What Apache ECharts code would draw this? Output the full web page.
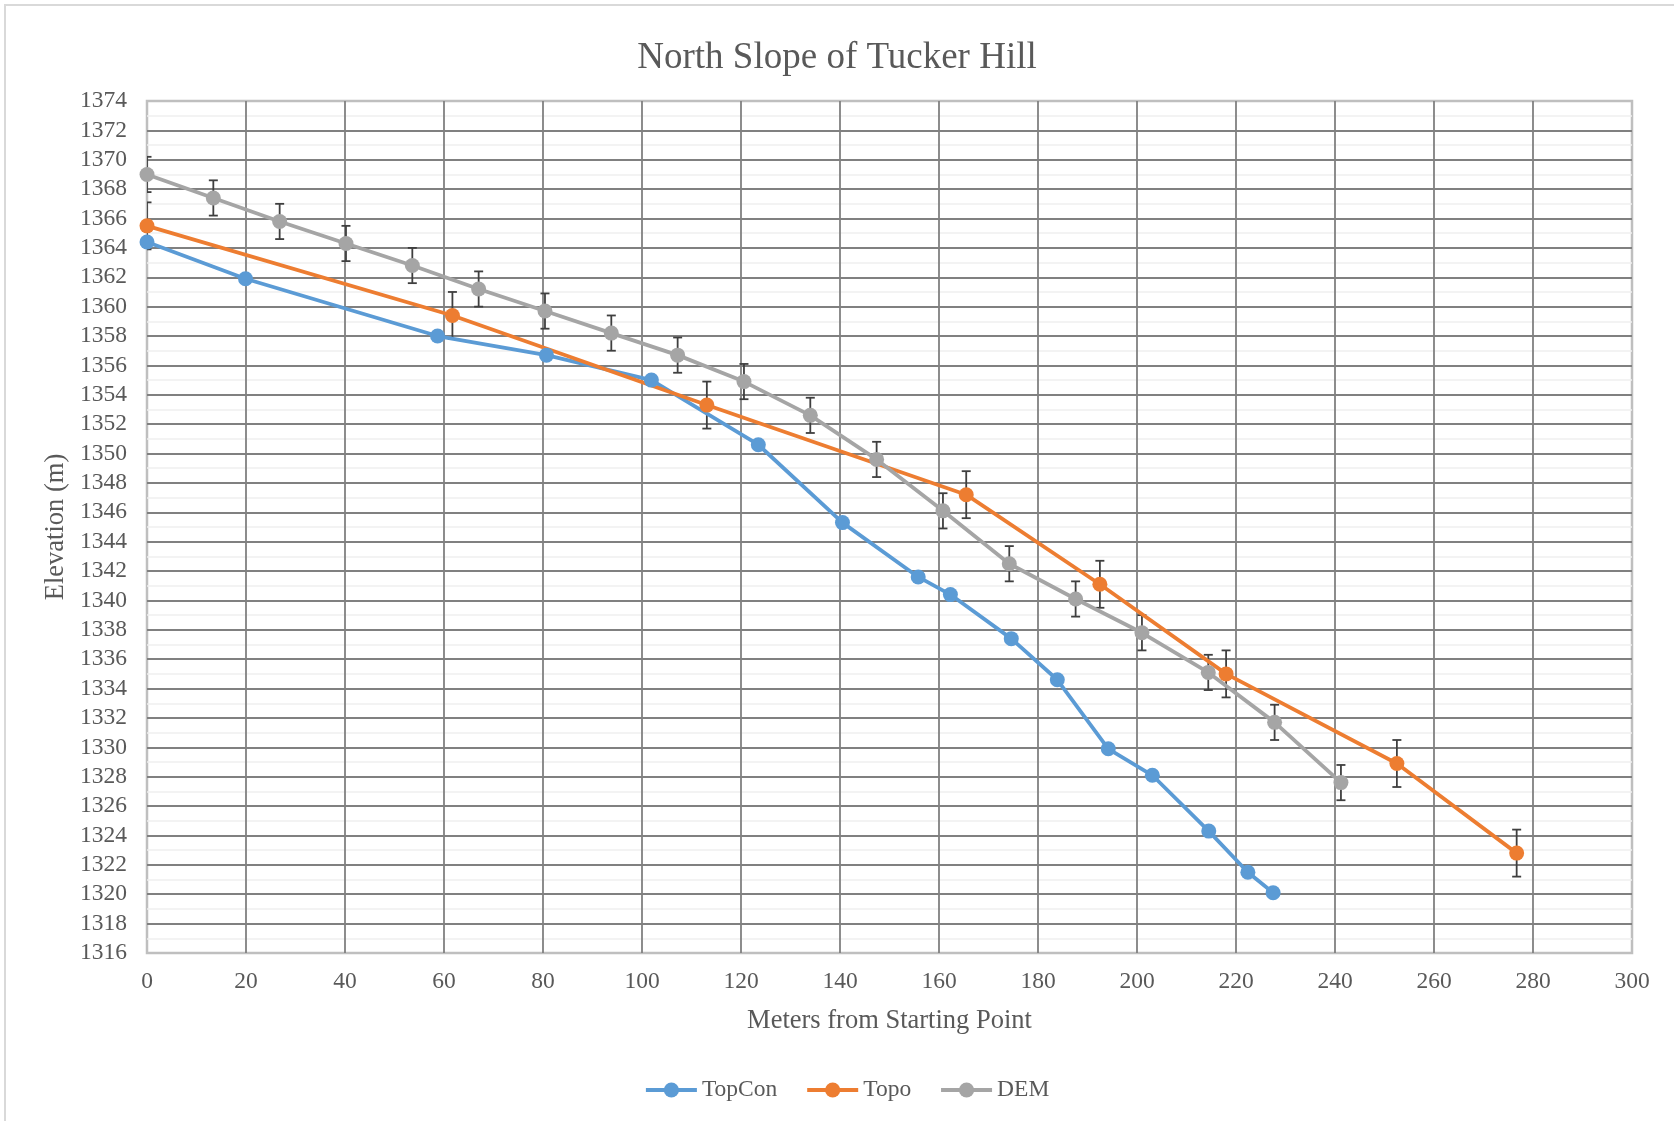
<!DOCTYPE html>
<html>
<head>
<meta charset="utf-8">
<title>North Slope of Tucker Hill</title>
<script src="https://cdn.jsdelivr.net/npm/echarts@6/dist/echarts.min.js"></script>
<style>
  html, body { margin: 0; padding: 0; background: #ffffff; }
  #chart { width: 1674px; height: 1121px; }
</style>
</head>
<body>
<div id="chart"></div>
<script>
// Distance along the profile (m) and elevation (m) for each survey method
const topconX = [0, 19.9, 58.7, 80.7, 101.9, 123.5, 140.5, 155.8, 162.3, 174.6, 183.9, 194.2, 203.1, 214.5, 222.4, 227.5];
const topconY = [1364.4, 1361.9, 1358.0, 1356.7, 1355.0, 1350.6, 1345.3, 1341.6, 1340.4, 1337.4, 1334.6, 1329.9, 1328.1, 1324.3, 1321.5, 1320.1];

const topoX = [0, 61.7, 113.1, 165.5, 192.5, 218.0, 252.5, 276.7];
const topoY = [1365.5, 1359.4, 1353.3, 1347.2, 1341.1, 1335.0, 1328.9, 1322.8];

const demX = [0, 13.4, 26.8, 40.2, 53.6, 67.0, 80.4, 93.8, 107.2, 120.6, 134.0, 147.4, 160.8, 174.2, 187.6, 201.0, 214.4, 227.8, 241.2];
const demY = [1369.0, 1367.4, 1365.8, 1364.3, 1362.8, 1361.2, 1359.7, 1358.2, 1356.7, 1354.9, 1352.6, 1349.6, 1346.1, 1342.5, 1340.1, 1337.8, 1335.1, 1331.7, 1327.6];

// Vertical uncertainty (± m) shown as error bars
const topoErr = 1.6;
const demErr = 1.2;

const xTicks = { min: 0, max: 300, interval: 20 };
const yTicks = { min: 1316, max: 1374, interval: 2 };

const seriesNames = ['TopCon', 'Topo', 'DEM'];
const seriesColors = ['#5B9BD5', '#ED7D31', '#A5A5A5'];

const FONT = "'Liberation Serif', 'Times New Roman', serif";
const TEXT = '#595959';

function pairs(xs, ys) {
  return xs.map((x, i) => [x, ys[i]]);
}
function errRows(xs, ys, e) {
  return xs.map((x, i) => [x, ys[i] - e, ys[i] + e]);
}

// Error bar: vertical whisker with a short cap at each end
function renderErrorBar(params, api) {
  const x = api.value(0);
  const lo = api.coord([x, api.value(1)]);
  const hi = api.coord([x, api.value(2)]);
  const w = 4.5;
  const style = { stroke: '#3f3f3f', lineWidth: 1.8 };
  return {
    type: 'group',
    children: [
      { type: 'line', shape: { x1: lo[0], y1: lo[1], x2: hi[0], y2: hi[1] }, style },
      { type: 'line', shape: { x1: hi[0] - w, y1: hi[1], x2: hi[0] + w, y2: hi[1] }, style },
      { type: 'line', shape: { x1: lo[0] - w, y1: lo[1], x2: lo[0] + w, y2: lo[1] }, style }
    ]
  };
}

function lineSeries(name, color, data) {
  return {
    name,
    type: 'line',
    data,
    z: 3,
    symbol: 'circle',
    symbolSize: 15,
    showSymbol: true,
    animation: false,
    lineStyle: { color, width: 3.8 },
    itemStyle: { color }
  };
}

function errorSeries(name, data) {
  return {
    name,
    type: 'custom',
    renderItem: renderErrorBar,
    data,
    encode: { x: 0, y: [1, 2] },
    clip: true,
    z: 2,
    animation: false,
    silent: true
  };
}

const chart = echarts.init(document.getElementById('chart'), null, { renderer: 'canvas' });

chart.setOption({
  backgroundColor: '#ffffff',
  animation: false,
  title: {
    text: 'North Slope of Tucker Hill',
    left: 'center',
    top: 35,
    textStyle: { fontFamily: FONT, fontSize: 37, fontWeight: 'normal', color: TEXT }
  },
  legend: {
    data: seriesNames,
    left: 639,
    top: 1073,
    itemWidth: 51,
    itemHeight: 19,
    itemGap: 28,
    lineStyle: { width: 3.8 },
    textStyle: { fontFamily: FONT, fontSize: 23.5, color: TEXT }
  },
  grid: {
    left: 147,
    right: 42,
    top: 101,
    bottom: 168,
    show: true,
    borderColor: '#BFBFBF',
    borderWidth: 2.5,
    backgroundColor: 'transparent'
  },
  xAxis: {
    type: 'value',
    min: xTicks.min,
    max: xTicks.max,
    interval: xTicks.interval,
    name: 'Meters from Starting Point',
    nameLocation: 'middle',
    nameGap: 55,
    nameTextStyle: { fontFamily: FONT, fontSize: 26.5, color: TEXT },
    axisLine: { show: false },
    axisTick: { show: false },
    axisLabel: { fontFamily: FONT, fontSize: 23.5, color: TEXT, margin: 17, formatter: v => String(v) },
    splitLine: { show: true, showMinLine: false, showMaxLine: false, lineStyle: { color: '#808080', width: 1.8 } }
  },
  yAxis: {
    type: 'value',
    min: yTicks.min,
    max: yTicks.max,
    interval: yTicks.interval,
    name: 'Elevation (m)',
    nameLocation: 'middle',
    nameGap: 75,
    nameTextStyle: { fontFamily: FONT, fontSize: 26.5, color: TEXT },
    axisLine: { show: false },
    axisTick: { show: false },
    axisLabel: { fontFamily: FONT, fontSize: 23.5, color: TEXT, margin: 20, formatter: v => String(v) },
    splitLine: { show: true, showMinLine: false, showMaxLine: false, lineStyle: { color: '#808080', width: 1.8 } },
    minorTick: { show: false, splitNumber: 2 },
    minorSplitLine: { show: true, lineStyle: { color: '#F0F0F0', width: 1.5 } }
  },
  series: [
    errorSeries('Topo error', errRows(topoX, topoY, topoErr)),
    errorSeries('DEM error', errRows(demX, demY, demErr)),
    lineSeries(seriesNames[0], seriesColors[0], pairs(topconX, topconY)),
    lineSeries(seriesNames[1], seriesColors[1], pairs(topoX, topoY)),
    lineSeries(seriesNames[2], seriesColors[2], pairs(demX, demY))
  ]
});

// Light frame around the whole chart area
chart.setOption({
  graphic: [{
    type: 'rect',
    shape: { x: 5, y: 5, width: 1700, height: 1150 },
    style: { fill: 'none', stroke: '#D9D9D9', lineWidth: 2 },
    z: -10,
    silent: true
  }]
});
</script>
</body>
</html>
